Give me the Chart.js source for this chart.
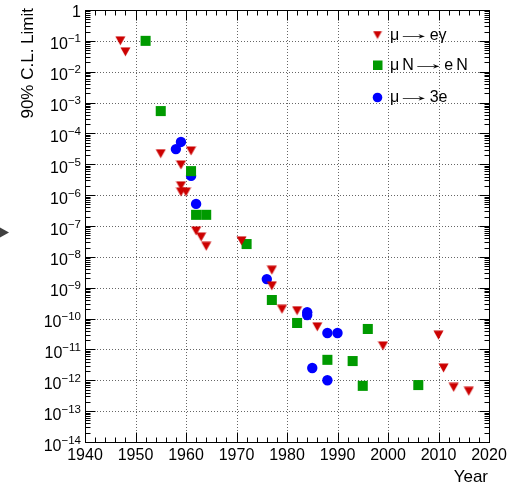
<!DOCTYPE html>
<html><head><meta charset="utf-8">
<script src="https://cdn.jsdelivr.net/npm/chart.js@4.4.1/dist/chart.umd.min.js"></script>
<style>html,body{margin:0;padding:0;background:#fff}#wrap{width:519px;height:485px;position:relative}</style>
</head><body><div id="wrap"><canvas id="c"></canvas></div>
<script>
// ---- tick labels ----
const xTickValues = [1940, 1950, 1960, 1970, 1980, 1990, 2000, 2010, 2020];
const xTickLabels = ['1940', '1950', '1960', '1970', '1980', '1990', '2000', '2010', '2020'];
const yTickExponents = [0, -1, -2, -3, -4, -5, -6, -7, -8, -9, -10, -11, -12, -13, -14];
const xTitle = 'Year';
const yTitle = '90% C.L. Limit';

// ---- series: mu -> e gamma ----
const megYears  = [1947, 1948, 1955, 1961, 1959, 1959, 1959, 1960, 1962, 1963, 1964, 1971, 1977, 1977, 1979, 1982, 1986, 1999, 2010, 2011, 2013, 2016];
const megLimits = [1.0e-1, 4.4e-2, 2.2e-5, 2.7e-5, 9.5e-6, 2.0e-6, 1.26e-6, 1.26e-6, 6.9e-8, 4.4e-8, 2.2e-8, 3.3e-8, 3.7e-9, 1.15e-9, 2.0e-10, 1.8e-10, 5.4e-11, 1.3e-11, 2.9e-11, 2.5e-12, 5.9e-13, 4.4e-13];

// ---- series: mu N -> e N ----
const convYears  = [1952, 1955, 1961, 1962, 1964, 1972, 1977, 1982, 1988, 1993, 1995, 1996, 2006];
const convLimits = [1.0e-1, 5.3e-4, 6.0e-6, 2.3e-7, 2.3e-7, 2.6e-8, 4.0e-10, 7.2e-11, 4.6e-12, 4.2e-12, 6.6e-13, 4.6e-11, 7.0e-13];

// ---- series: mu -> 3e ----
const m3eYears  = [1958, 1959, 1961, 1962, 1976, 1984, 1984, 1988, 1990, 1985, 1988];
const m3eLimits = [3.1e-5, 5.3e-5, 4.2e-6, 5.2e-7, 1.9e-9, 1.6e-10, 1.3e-10, 3.4e-11, 3.4e-11, 2.5e-12, 1.0e-12];

const seriesLabels = ['\u03bc \u2192 e\u03b3', '\u03bc N \u2192 e N', '\u03bc \u2192 3e'];
const seriesColors = ['#cc0000', '#009a00', '#0000ff'];

const FONT = '"Liberation Sans", Arial, Helvetica, sans-serif';

function makeTri(color, w, h) {
  const c = document.createElement('canvas');
  c.width = w + 1; c.height = h + 1;
  const g = c.getContext('2d');
  g.fillStyle = color;
  g.beginPath(); g.moveTo(0.5, 0.5); g.lineTo(w + 0.5, 0.5); g.lineTo(w / 2 + 0.5, h + 0.5); g.closePath(); g.fill();
  return c;
}
const triImg = makeTri(seriesColors[0], 10, 9);
const triLegend = makeTri(seriesColors[0], 9, 8);

function pts(xs, ys) { return xs.map((v, i) => ({x: v, y: ys[i]})); }

// draws a legend label: normal glyphs in FONT, narrow spaces, long thin arrow
function drawLabel(ctx, text, x, base) {
  ctx.textAlign = 'left';
  for (const ch of text) {
    if (ch === ' ') { x += 3; continue; }
    if (ch === '\u2192') {
      ctx.font = '16px ' + FONT;
      const m = ctx.measureText(ch);
      const gw = m.actualBoundingBoxRight + m.actualBoundingBoxLeft;
      const s = 23 / gw;
      ctx.save();
      ctx.translate(x + 0.5 + m.actualBoundingBoxLeft * s, base - 0.5);
      ctx.scale(s, 1);
      ctx.fillText(ch, 0, 0);
      ctx.restore();
      x += 24.5;
      continue;
    }
    ctx.font = '16px ' + FONT;
    ctx.fillText(ch, x, base);
    x += ctx.measureText(ch).width;
  }
}

const rootAxes = {
  id: 'rootAxes',
  beforeDatasetsDraw(chart) {
    const {ctx, chartArea: a, scales: {x, y}} = chart;
    ctx.save();
    ctx.strokeStyle = '#666'; ctx.lineWidth = 1; ctx.setLineDash([1, 2]);
    ctx.beginPath();
    xTickValues.forEach(v => {
      if (v > x.min && v < x.max) {
        const px = Math.round(x.getPixelForValue(v)) + 0.5;
        ctx.moveTo(px, a.top); ctx.lineTo(px, a.bottom);
      }
    });
    yTickExponents.forEach(e => {
      const v = Math.pow(10, e);
      if (v < y.max && v > y.min) {
        const py = Math.round(y.getPixelForValue(v)) + 0.5;
        ctx.moveTo(a.left, py); ctx.lineTo(a.right, py);
      }
    });
    ctx.stroke();
    ctx.restore();
  },
  afterDatasetsDraw(chart) {
    const {ctx, chartArea: a, scales: {x, y}} = chart;
    const L = Math.round(a.left) + 0.5, R = Math.round(a.right) + 0.5;
    const T = Math.round(a.top) + 0.5, B = Math.round(a.bottom) + 0.5;
    ctx.save();
    ctx.strokeStyle = '#000'; ctx.lineWidth = 1; ctx.setLineDash([]);
    ctx.strokeRect(L, T, R - L, B - T);
    ctx.beginPath();
    // x ticks (bottom and top)
    for (let yr = x.min; yr <= x.max; yr += 2) {
      const px = Math.round(x.getPixelForValue(yr)) + 0.5;
      const len = (yr % 10 === 0) ? 10 : 5;
      ctx.moveTo(px, B); ctx.lineTo(px, B - len);
      ctx.moveTo(px, T); ctx.lineTo(px, T + len);
    }
    // y ticks (left and right)
    yTickExponents.forEach(e => {
      const base = Math.pow(10, e);
      const py = Math.round(y.getPixelForValue(base)) + 0.5;
      ctx.moveTo(L, py); ctx.lineTo(L + 10, py);
      ctx.moveTo(R, py); ctx.lineTo(R - 10, py);
      if (e < 0) {
        for (let k = 2; k <= 9; k++) {
          const pm = Math.round(y.getPixelForValue(k * base)) + 0.5;
          ctx.moveTo(L, pm); ctx.lineTo(L + 5, pm);
          ctx.moveTo(R, pm); ctx.lineTo(R - 5, pm);
        }
      }
    });
    ctx.stroke();

    // tick labels
    ctx.fillStyle = '#000';
    ctx.textBaseline = 'alphabetic';
    ctx.font = '16px ' + FONT;
    ctx.textAlign = 'center';
    xTickValues.forEach((v, i) => {
      ctx.fillText(xTickLabels[i], x.getPixelForValue(v), a.bottom + 18);
    });
    const rx = a.left - 4;
    yTickExponents.forEach(e => {
      const py = y.getPixelForValue(Math.pow(10, e));
      ctx.textAlign = 'right';
      if (e === 0) {
        ctx.font = '16px ' + FONT;
        ctx.fillText('1', rx, py + 7);
        return;
      }
      const sup = '\u2212' + String(-e);
      ctx.font = '11.5px ' + FONT;
      const w = ctx.measureText(sup).width;
      ctx.fillText(sup, rx, py + 1.5);
      ctx.font = '16px ' + FONT;
      ctx.fillText('10', rx - w, py + 8.5);
    });

    // axis titles
    ctx.font = '17px ' + FONT;
    ctx.textAlign = 'right';
    ctx.fillText(xTitle, a.right - 1, chart.height - 3);
    ctx.save();
    ctx.translate(33, a.top - 2);
    ctx.rotate(-Math.PI / 2);
    ctx.textAlign = 'right';
    ctx.fillText(yTitle, 0, 0);
    ctx.restore();

    // legend
    const mx = a.right - 111.5, tx = a.right - 99;
    const rows = [a.top + 25, a.top + 55, a.top + 87.5];
    ctx.drawImage(triLegend, mx - 5, rows[0] - 4.5);
    ctx.fillStyle = seriesColors[1];
    ctx.fillRect(mx - 4.5, rows[1] - 4.5, 9.5, 9.5);
    ctx.fillStyle = seriesColors[2];
    ctx.beginPath(); ctx.arc(mx, rows[2], 4.8, 0, Math.PI * 2); ctx.fill();
    ctx.fillStyle = '#000';
    drawLabel(ctx, seriesLabels[0], tx, a.top + 29.5);
    drawLabel(ctx, seriesLabels[1], tx, a.top + 59.5);
    drawLabel(ctx, seriesLabels[2], tx, a.top + 91.5);

    // small page-edge arrow seen in the reference
    ctx.fillStyle = '#404040';
    ctx.beginPath(); ctx.moveTo(0, 227.5); ctx.lineTo(9, 232.5); ctx.lineTo(0, 237.5); ctx.closePath(); ctx.fill();
    ctx.restore();
  }
};

new Chart(document.getElementById('c'), {
  type: 'scatter',
  data: {
    datasets: [
      {label: seriesLabels[0], data: pts(megYears, megLimits), pointStyle: triImg, pointRadius: 5, backgroundColor: seriesColors[0], borderWidth: 0},
      {label: seriesLabels[1], data: pts(convYears, convLimits), pointStyle: 'rect', pointRadius: 7.1, backgroundColor: seriesColors[1], borderWidth: 0},
      {label: seriesLabels[2], data: pts(m3eYears, m3eLimits), pointStyle: 'circle', pointRadius: 5.2, backgroundColor: seriesColors[2], borderWidth: 0}
    ]
  },
  options: {
    responsive: true, maintainAspectRatio: false, animation: false, events: [],
    layout: {padding: {left: 85, right: 30, top: 10, bottom: 43}},
    plugins: {legend: {display: false}, tooltip: {enabled: false}},
    scales: {
      x: {type: 'linear', min: 1940, max: 2020, display: false},
      y: {type: 'logarithmic', min: 1e-14, max: 1, display: false}
    }
  },
  plugins: [rootAxes]
});
</script></body></html>
